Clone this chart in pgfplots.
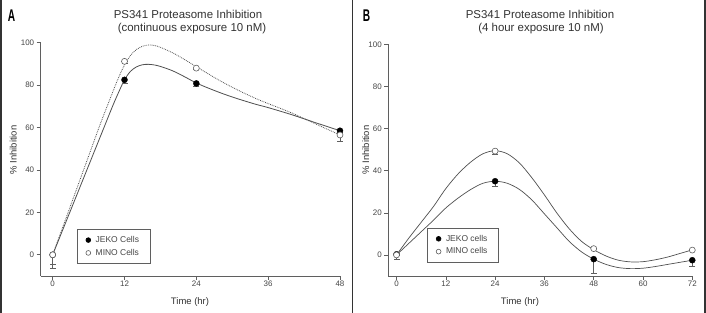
\documentclass[border=0pt]{standalone}
\usepackage{fontspec}
\setmainfont{Liberation Sans}
\usepackage{pgfplots}
\pgfplotsset{compat=1.18}
\definecolor{axgray}{RGB}{95,95,95}
\definecolor{txtgray}{RGB}{70,70,70}
\definecolor{curvegray}{RGB}{80,80,80}
\begin{document}
\begin{tikzpicture}
\path[use as bounding box, fill=white] (0bp,0bp) rectangle (706bp,313bp);
\draw[line width=1.5bp, black!80] (1bp,0bp)--(1bp,313bp) (352.3bp,0bp)--(352.3bp,313bp) (705bp,0bp)--(705bp,313bp);
\pgfplotsset{
 mystyle/.style={scale only axis, axis lines=left,
   axis line style={-, axgray, line width=0.8bp},
   tick align=outside, major tick length=4bp,
   tick style={axgray, line width=0.6bp},
   ticklabel style={font=\fontsize{8}{9}\selectfont, text=txtgray},
   xticklabel style={yshift=2.5bp},
   yticklabel style={xshift=1bp},
   /pgf/number format/assume math mode=true,
   ymin=-10, ymax=100, ytick={0,20,...,100},
   clip=false, legend cell align=left,
   legend image code/.code={\draw[##1, mark size=2.4bp] plot coordinates {(0bp,0bp)};},
   legend style={draw=axgray, line width=0.6bp, font=\fontsize{8.5}{11}\selectfont, text=txtgray,
     row sep=1.2bp, column sep=3bp, inner xsep=9bp, inner ysep=5bp, anchor=north west},
 },
 jeko/.style={only marks, mark=*, mark size=3bp, mark options={fill=black, draw=black},
   error bars/.cd, y dir=minus, y explicit,
   error bar style={axgray, line width=0.6bp}},
 mino/.style={only marks, mark=*, mark size=3bp, mark options={fill=white, draw=axgray, line width=0.6bp},
   error bars/.cd, y dir=minus, y explicit,
   error bar style={axgray, line width=0.6bp}},
}
% Panel A
\begin{axis}[mystyle, at={(40.7bp,37bp)}, anchor=south west, width=299.3bp, height=233.3bp,
  xmin=-2, xmax=48, xtick={0,12,24,36,48},
  legend style={at={(0.120,0.2015)}}]
\addplot[curvegray, line width=0.8bp, smooth, forget plot] coordinates {
(0,0) (2,14) (4,28) (6,42) (8,56) (10,70) (11,76.5) (12,82.5) (13,86.5) (14,88.6) (15,89.6) (16,89.8) (17,89.5) (18,88.8) (20,86.8) (22,84) (24,81) (26,78.6) (28,76.4) (30,74.4) (32,72.6) (34,70.9) (36,69.4) (40,66) (44,62.2) (48,58.5)};
\addplot[curvegray, line width=0.8bp, densely dotted, smooth, forget plot] coordinates {
(0,0) (2,15.5) (4,31) (6,46.5) (8,62) (10,76.5) (11,83.5) (12,89.5) (13,94) (14,96.8) (15,98.3) (16,98.9) (17,98.7) (18,97.8) (20,95.3) (22,92.1) (24,88.7) (26,85.3) (28,82) (30,79) (32,76.2) (34,73.6) (36,71.3) (40,66.8) (44,61.6) (48,56.5)};
\addplot[jeko] table[x=x, y=y, y error minus=e] {
x y e
0 0 4.5
12 82.5 1.5
24 80.8 1.5
48 58.5 0.5
};
\addlegendentry{JEKO Cells}
\addplot[mino] table[x=x, y=y, y error minus=e] {
x y e
0 0 6.5
12 91.2 0.8
24 88.0 0.5
48 56.5 3.0
};
\addlegendentry{MINO Cells}
\end{axis}
% Panel B
\begin{axis}[mystyle, at={(388.3bp,37bp)}, anchor=south west, width=304bp, height=231.7bp,
  xmin=-2, xmax=72, xtick={0,12,24,36,48,60,72},
  legend style={at={(0.127,0.2085)}}]
\addplot[curvegray, line width=0.7bp, smooth, forget plot] coordinates {
(0,0) (3,5.5) (6,11) (9,16.5) (12,22.3) (15,27) (18,31) (21,34) (24,35) (27,34) (30,31) (33,26) (36,19.5) (39,13) (42,6.5) (45,1.5) (48,-2) (51,-4.5) (54,-6) (57,-6.5) (60,-6.3) (63,-5.5) (66,-4.5) (69,-3.5) (72,-2.5)};
\addplot[curvegray, line width=0.7bp, smooth, forget plot] coordinates {
(0,0) (3,8) (6,15.5) (9,23) (12,31.5) (15,38.5) (18,44) (21,48) (24,49.5) (27,48) (30,43.5) (33,36.5) (36,28.5) (39,20) (42,12.5) (45,6.5) (48,2.5) (51,-0.5) (54,-2.5) (57,-3.3) (60,-3.2) (63,-2.3) (66,-1) (69,0.7) (72,2.4)};
\addplot[jeko] table[x=x, y=y, y error minus=e] {
x y e
0 0.3 2.5
24 35 2.2
48 -2 6.5
72 -2.5 3
};
\addlegendentry{JEKO cells}
\addplot[mino] table[x=x, y=y, y error minus=e] {
x y e
0 0 0
24 49.3 1.3
48 3 0
72 2.3 0
};
\addlegendentry{MINO cells}
\end{axis}
% Titles and labels
\node[font=\fontsize{11.5}{13}\selectfont, text=black!80] at (188bp,299bp) {PS341 Proteasome Inhibition};
\node[font=\fontsize{11.5}{13}\selectfont, text=black!80] at (192bp,284bp) {(continuous exposure 10 nM)};
\node[font=\fontsize{11.5}{13}\selectfont, text=black!80] at (540bp,299bp) {PS341 Proteasome Inhibition};
\node[font=\fontsize{11.5}{13}\selectfont, text=black!80] at (541bp,284bp) {(4 hour exposure 10 nM)};
\node[font=\fontsize{9.5}{11}\selectfont, text=black!80] at (190bp,11bp) {Time (hr)};
\node[font=\fontsize{9.5}{11}\selectfont, text=black!80] at (520bp,11bp) {Time (hr)};
\node[font=\fontsize{9.5}{11}\selectfont, text=black!80, rotate=90] at (13.3bp,163bp) {\% Inhibition};
\node[font=\fontsize{9.5}{11}\selectfont, text=black!80, rotate=90] at (365.7bp,163bp) {\% Inhibition};
\node[font=\bfseries\fontsize{17}{18}\selectfont] at (11.5bp,297bp) {\scalebox{0.6}[1]{A}};
\node[font=\bfseries\fontsize{17}{18}\selectfont] at (366.5bp,297bp) {\scalebox{0.6}[1]{B}};
\end{tikzpicture}
\end{document}
